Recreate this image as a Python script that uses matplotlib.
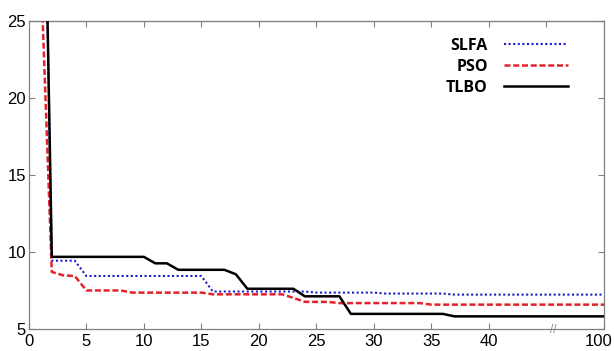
import matplotlib
matplotlib.use("Agg")
import matplotlib.pyplot as plt
import matplotlib.transforms as mtransforms
import numpy as np

# iterations (last one is 100, drawn after the axis break)
iterations = list(range(1, 46)) + [100]

tlbo = ([51.0] + [9.7] * 9 + [9.28] * 2 + [8.86] * 5 + [8.57] + [7.63] * 5 +
        [7.14] * 4 + [6.0] * 9 + [5.84] * 9 + [5.84])
slfa = ([51.0] + [9.45] * 3 + [8.46] * 11 + [7.45] * 9 + [7.38] * 6 +
        [7.32] * 6 + [7.25] * 9 + [7.25])
pso = ([29.3, 8.72, 8.5, 8.46] + [7.52] * 4 + [7.38] * 7 + [7.27] * 7 + [7.04] +
       [6.78] * 3 + [6.7] * 8 + [6.6] * 11 + [6.6])

xtick_vals = [0, 5, 10, 15, 20, 25, 30, 35, 40, 100]
ytick_vals = [5, 10, 15, 20, 25]
series_names = ["SLFA", "PSO", "TLBO"]

BREAK_AT = 45
BREAK_END = 50


def to_axis(it):
    it = np.asarray(it, dtype=float)
    return np.where(it <= BREAK_AT, it, BREAK_END)


fig = plt.figure(figsize=(6.14, 3.51), dpi=100)
ax = fig.add_axes([0.0469, 0.0618, 0.9368, 0.8784])

x = to_axis(iterations)
ax.plot(x, slfa, color="#1c1ccc", lw=1.5, linestyle=(0, (1, 1.2)),
        dash_capstyle="butt", label=series_names[0], zorder=2)
ax.plot(x, pso, color="#e3222b", lw=1.8, linestyle=(0, (2.4, 1.1)),
        dash_capstyle="butt", label=series_names[1], zorder=3)
ax.plot(x, tlbo, color="black", lw=1.8, label=series_names[2], zorder=4)

ax.set_xlim(0, 50)
ax.set_ylim(5, 25)

ax.set_xticks(to_axis(xtick_vals))
ax.set_xticklabels([str(v) for v in xtick_vals])
ax.set_yticks(ytick_vals)
ax.set_yticklabels([str(v) for v in ytick_vals])

grey = "#808080"
for s in ax.spines.values():
    s.set_color(grey)
    s.set_linewidth(0.9)

ax.tick_params(axis="x", direction="in", length=4.3, width=0.8, color=grey,
               labelsize=12, pad=3.5, labelcolor="black")
ax.tick_params(axis="y", direction="in", length=4.3, width=0.8, color=grey,
               labelsize=12, pad=2, labelcolor="black", right=True)
for lab in ax.get_xticklabels() + ax.get_yticklabels():
    lab.set_fontfamily(["Liberation Sans", "DejaVu Sans"])

# keep the last x label ("100") inside the picture, as in the reference
last = ax.get_xticklabels()[-1]
last.set_horizontalalignment("right")
last.set_transform(last.get_transform() +
                   mtransforms.ScaledTranslation(0.085, 0, fig.dpi_scale_trans))

top = ax.secondary_xaxis("top")
top.set_xticks([5, 10, 15, 20, 25, 30, 35, 40, 45])
top.set_xticklabels([])
top.tick_params(direction="in", length=4.3, width=0.8, color=grey)
top.spines["top"].set_color(grey)

# axis break mark
ax.text(45.6, 5.0, "//", ha="center", va="center", fontsize=7, color=grey,
        fontfamily="DejaVu Sans", clip_on=False, zorder=6)

leg = ax.legend(loc="upper left", bbox_to_anchor=(446.0 / 614, 1 - 38 / 351),
                bbox_transform=fig.transFigure, frameon=False, markerfirst=False,
                borderpad=0, borderaxespad=0, handlelength=4.0,
                handletextpad=1.0, labelspacing=0.3,
                prop={"family": ["Open Sans", "DejaVu Sans"], "weight": "bold",
                      "size": 11.5})

fig.savefig("out.png", dpi=100)
